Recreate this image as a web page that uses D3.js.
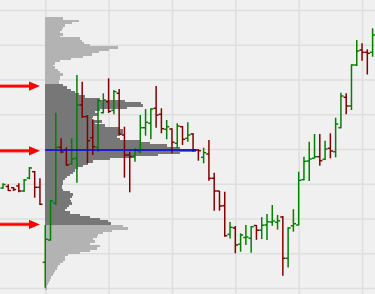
<!DOCTYPE html>
<html>
<head>
<meta charset="utf-8">
<script src="https://cdn.jsdelivr.net/npm/d3@7"></script>
<style>
  body { margin: 0; background: #f0f0f0; }
  svg { display: block; }
</style>
</head>
<body>
<svg id="chart"></svg>
<script>
const width = 375;
const height = 294;

// OHLC per bar (price in chart points)
const opens  = [112, 113.5, 112.3, 114, 109, 122, 128.3, 112.7, 37.7, 60, 97, 152.7, 150, 136, 141.7, 195, 183.3, 162.3, 152.7, 187.3, 198.3, 189.7, 206.7, 165, 145, 144, 148.3, 172.3, 176.7, 191.7, 185.7, 170.7, 171, 156.7, 173.3, 161.7, 166, 150, 142.7, 146, 121.7, 109, 94.3, 65.7, 72, 55.8, 62.5, 61.7, 74.5, 69.8, 75, 78, 77.7, 83, 41.7, 74.2, 75, 120.3, 139, 141.7, 143.3, 140.7, 151.7, 148.3, 172.3, 202.7, 194, 235, 250, 247.7, 247.7];
const highs  = [116.7, 115.7, 113, 116.7, 121, 133, 129, 121.7, 75, 100, 187.3, 161.7, 152.7, 161.7, 225, 218.3, 185, 180.7, 200.7, 206.7, 221.7, 210, 211, 173.3, 148.3, 151.7, 185, 191, 191.7, 214, 191.7, 180, 171.7, 176.7, 174, 177.7, 166.7, 151, 152.3, 160, 127.3, 109, 108.3, 78, 74, 66.7, 75, 74, 75, 82.8, 86, 95, 85, 84, 72.8, 90.8, 128.3, 143.3, 158.3, 166, 166, 159.3, 166.7, 182.3, 207.3, 206.7, 235.7, 260, 256.7, 250.7, 271.7];
const lows   = [111.3, 109, 109, 107.7, 108.3, 120.7, 102.3, 95, 12.3, 59.3, 95, 146.7, 134.3, 135, 117.3, 182.3, 136.7, 145, 148.3, 186.7, 187, 185.7, 165, 122.3, 107.7, 138.3, 146.7, 164.3, 160.7, 172.3, 166.7, 160.7, 146.7, 151.7, 155, 158.3, 148.3, 139.3, 136.7, 119.3, 89.3, 89.3, 63.3, 61.5, 46.7, 48.3, 55, 47.3, 60.2, 61, 60, 74.2, 70.4, 24.2, 32.5, 68.3, 74.7, 119.7, 119, 141.7, 134.3, 140, 141.7, 142.7, 171.7, 185.7, 190, 234, 239.3, 225.5, 243.3];
const closes = [115.5, 109.5, 110.5, 109, 120, 132, 112.7, 95.7, 60.7, 99, 152.7, 148, 135, 141, 195, 183.3, 159.3, 153.3, 199.3, 200, 188.7, 208.3, 165.7, 145, 143.3, 150, 172.3, 177.7, 191, 185, 171.3, 173.3, 157.7, 174, 160.7, 165, 150, 149.3, 147.3, 121.7, 109, 94, 64.3, 72.7, 55, 65, 63, 73.3, 69.8, 74.8, 78.3, 79, 79.2, 41.7, 72, 76.3, 119.7, 138.7, 141, 143.3, 139.3, 151, 149, 176, 204, 194, 235, 249, 247.7, 246.7, 265];

// volume profile of the session, from the top price level downwards
const profileTop = 282.7;
const profileStep = 2.23;
const profileVolume = [
  18, 34, 27, 20, 18, 17, 15, 18, 15, 35, 37, 39, 45, 73, 64, 54, 47, 38, 26, 15,
  10, 8, 10, 13, 15, 18, 15, 15, 14, 14,
  18, 22, 26, 30, 34, 40, 55, 80, 96, 98, 82, 55, 50, 53, 48, 47, 57, 50, 60, 75,
  78, 78, 75, 72, 75, 95, 105, 122, 135, 151,
  135, 113, 90, 65, 48, 43, 38, 33, 30, 28, 25, 22, 20, 18, 18, 17, 17, 18, 25, 28,
  27, 25, 26, 27, 24, 22, 20, 25, 35, 45, 55, 63, 66,
  78, 83, 67, 58, 53, 52, 48, 50, 45, 55, 52, 45, 35, 23, 20, 20, 18, 15, 13, 12,
  10, 9, 8, 6, 4.5, 3.5, 2.5, 2, 1.5
];
const valueAreaHigh = 30;   // first row inside value area
const valueAreaLow = 92;    // last row inside value area
const sessionStart = 8;     // bar where the profile is anchored

const priceGrid = d3.range(290, 0, -34.75);
const timeGrid = d3.range(8, 71, 12);

const svg = d3.select("#chart").attr("width", width).attr("height", height);

const xScale = d3.scaleLinear().domain([0, 70]).range([3, 372.6]);
const yScale = d3.scaleLinear().domain([0, 300]).range([300, 0]);
const vScale = d3.scaleLinear().domain([0, d3.max(profileVolume)]).range([0, 151]);

svg.append("rect").attr("width", width).attr("height", height).attr("fill", "#f0f0f0");

// grid
svg.append("g")
  .call(d3.axisLeft(yScale).tickValues(priceGrid).tickSize(-width).tickFormat(""))
  .call(g => g.select(".domain").remove())
  .call(g => g.selectAll("line").attr("stroke", "#dfdfdf").attr("stroke-width", 1.6));

svg.append("g")
  .attr("transform", `translate(0,${height})`)
  .call(d3.axisBottom(xScale).tickValues(timeGrid).tickSize(-height).tickFormat(""))
  .call(g => g.select(".domain").remove())
  .call(g => g.selectAll("line").attr("stroke", "#dfdfdf").attr("stroke-width", 1.6));

// profile
const x0 = xScale(sessionStart);
const rows = profileVolume.map((v, i) => ({
  i, v,
  top: profileTop - i * profileStep,
  bottom: profileTop - (i + 1) * profileStep
}));

svg.append("g")
  .attr("shape-rendering", "crispEdges")
  .selectAll("rect")
  .data(rows)
  .join("rect")
  .attr("x", x0)
  .attr("y", d => yScale(d.top))
  .attr("width", d => vScale(d.v))
  .attr("height", d => yScale(d.bottom) - yScale(d.top) + 0.4)
  .attr("fill", d => (d.i >= valueAreaHigh && d.i <= valueAreaLow) ? "#777777" : "#b3b3b3");

// bars
const bars = opens.map((o, i) => ({ i, o, h: highs[i], l: lows[i], c: closes[i] }));
const barColor = d => d.c >= d.o ? "#008000" : "#820000";
const barG = svg.append("g").selectAll("g").data(bars).join("g")
  .attr("stroke", barColor).attr("stroke-width", 1.5);

barG.append("line")
  .attr("x1", d => xScale(d.i)).attr("x2", d => xScale(d.i))
  .attr("y1", d => yScale(d.h)).attr("y2", d => yScale(d.l));
barG.append("line")
  .attr("x1", d => xScale(d.i) - 2.6).attr("x2", d => xScale(d.i))
  .attr("y1", d => yScale(d.o)).attr("y2", d => yScale(d.o));
barG.append("line")
  .attr("x1", d => xScale(d.i)).attr("x2", d => xScale(d.i) + 2.6)
  .attr("y1", d => yScale(d.c)).attr("y2", d => yScale(d.c));

// point of control
const pocIndex = d3.maxIndex(profileVolume);
const rowMid = i => yScale(profileTop - (i + 0.5) * profileStep);
svg.append("line")
  .attr("x1", x0).attr("x2", x0 + vScale(profileVolume[pocIndex]))
  .attr("y1", rowMid(pocIndex)).attr("y2", rowMid(pocIndex))
  .attr("stroke", "#0000ee").attr("stroke-width", 1.5);

// arrows at VAH, POC, VAL
const arrowRows = [valueAreaHigh, pocIndex, valueAreaLow];
const arrows = svg.append("g").selectAll("g").data(arrowRows).join("g")
  .attr("transform", d => `translate(0,${rowMid(d) + 0.8})`);
arrows.append("line")
  .attr("x1", 0).attr("x2", 31).attr("y1", 0).attr("y2", 0)
  .attr("stroke", "#ff6060").attr("stroke-width", 3.6);
arrows.append("line")
  .attr("x1", 0).attr("x2", 31).attr("y1", 0).attr("y2", 0)
  .attr("stroke", "#ff0000").attr("stroke-width", 2);
arrows.append("path")
  .attr("d", "M29,-4.6L40,0L29,4.6Z")
  .attr("fill", "#ff0000");
</script>
</body>
</html>
